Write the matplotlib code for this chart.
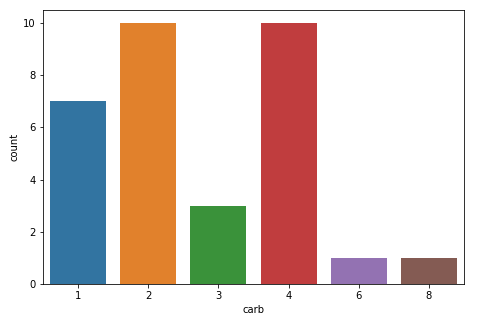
import matplotlib
matplotlib.use("Agg")
import matplotlib.pyplot as plt

categories = ["1", "2", "3", "4", "6", "8"]
counts = [7, 10, 3, 10, 1, 1]
colors = ["#3274a1", "#e1812c", "#3a923a", "#c03d3e", "#9372b2", "#845b53"]

fig = plt.figure(figsize=(497/72, 326/72), dpi=72)
ax = fig.add_axes([43/497, 1-284/326, (464-43)/497, (284-10)/326])
x = list(range(len(categories)))
ax.bar(x, counts, width=0.8, color=colors)
ax.set_xticks(x)
ax.set_xticklabels(categories)
ax.set_xlim(-0.5, len(categories)-0.5)
ax.set_ylim(0, 10.5)
ax.set_yticks([0, 2, 4, 6, 8, 10])
ax.set_xlabel("carb")
ax.set_ylabel("count")
fig.savefig("out.png", dpi=72)
